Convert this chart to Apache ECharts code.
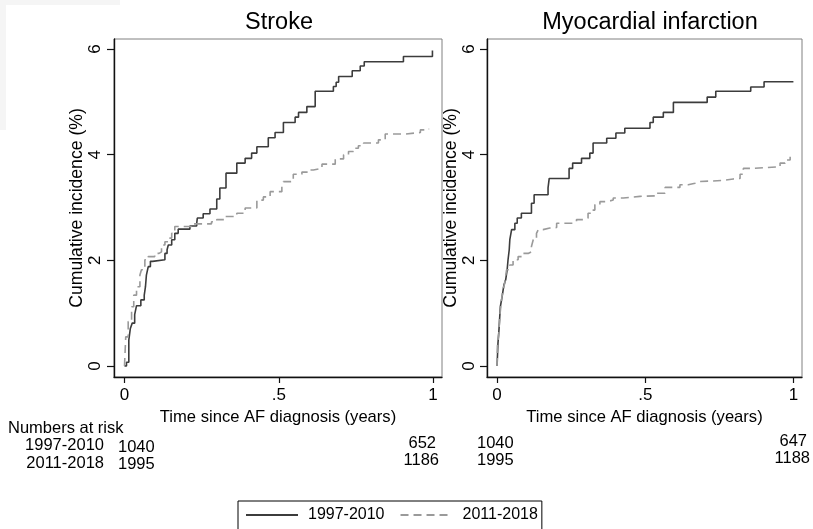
<!DOCTYPE html>
<html>
<head>
<meta charset="utf-8">
<script src="https://cdn.jsdelivr.net/npm/echarts@6/dist/echarts.min.js"></script>
<style>
html,body{margin:0;padding:0;background:#fff;}
#chart{width:813px;height:529px;}
</style>
</head>
<body>
<div id="chart"></div>
<script>
// ---- Data ----
var panelTitles = ['Stroke', 'Myocardial infarction'];
var groupNames = ['1997-2010', '2011-2018'];
var yTicks = [0, 2, 4, 6];
var xTicks = [0, 0.5, 1];
var xTickLabels = ['0', '.5', '1'];
var yAxisTitle = 'Cumulative incidence (%)';
var xAxisTitle = 'Time since AF diagnosis (years)';

// Stroke, 1997-2010 (time in years, cumulative incidence %)
var strokeEarlyT = [0, 0.0065, 0.014, 0.019, 0.025, 0.033, 0.039, 0.053, 0.064, 0.068, 0.071, 0.077, 0.084, 0.091, 0.131, 0.138, 0.142, 0.153, 0.163, 0.174, 0.212, 0.234, 0.236, 0.255, 0.277, 0.299, 0.309, 0.329, 0.364, 0.391, 0.412, 0.429, 0.466, 0.488, 0.515, 0.553, 0.564, 0.591, 0.618, 0.677, 0.686, 0.694, 0.738, 0.764, 0.777, 0.904, 0.998];
var strokeEarlyV = [0, 0.07, 0.49, 0.71, 0.81, 0.97, 1.14, 1.25, 1.34, 1.50, 1.72, 1.88, 1.98, 2.01, 2.13, 2.20, 2.29, 2.39, 2.51, 2.59, 2.65, 2.70, 2.80, 2.88, 2.97, 3.16, 3.37, 3.65, 3.84, 3.93, 4.03, 4.15, 4.32, 4.42, 4.61, 4.71, 4.80, 4.91, 5.20, 5.29, 5.37, 5.48, 5.59, 5.68, 5.76, 5.86, 5.97];
// Stroke, 2011-2018
var strokeLateT = [0, 0.001, 0.004, 0.012, 0.023, 0.030, 0.039, 0.050, 0.055, 0.066, 0.077, 0.098, 0.112, 0.120, 0.131, 0.142, 0.153, 0.163, 0.218, 0.282, 0.299, 0.326, 0.364, 0.391, 0.429, 0.450, 0.472, 0.510, 0.515, 0.547, 0.575, 0.596, 0.612, 0.640, 0.683, 0.710, 0.726, 0.742, 0.758, 0.775, 0.823, 0.845, 0.910, 0.959, 0.986];
var strokeLateV = [0, 0.02, 0.55, 0.84, 1.12, 1.34, 1.50, 1.72, 1.82, 2.01, 2.07, 2.13, 2.16, 2.29, 2.35, 2.42, 2.51, 2.64, 2.69, 2.73, 2.77, 2.83, 2.89, 2.99, 3.14, 3.20, 3.30, 3.40, 3.49, 3.63, 3.67, 3.71, 3.74, 3.82, 3.92, 4.00, 4.06, 4.12, 4.17, 4.22, 4.28, 4.39, 4.42, 4.47, 4.49];
// Myocardial infarction, 1997-2010
var miEarlyT = [0, 0.003, 0.006, 0.011, 0.017, 0.023, 0.029, 0.034, 0.037, 0.041, 0.043, 0.049, 0.060, 0.068, 0.082, 0.116, 0.125, 0.172, 0.176, 0.243, 0.255, 0.285, 0.313, 0.324, 0.370, 0.401, 0.431, 0.516, 0.527, 0.561, 0.595, 0.709, 0.738, 0.856, 0.901, 1.0];
var miEarlyV = [0, 0.43, 0.65, 1.12, 1.31, 1.53, 1.63, 1.82, 2.01, 2.20, 2.39, 2.58, 2.70, 2.80, 2.89, 3.08, 3.24, 3.37, 3.55, 3.74, 3.84, 3.93, 4.03, 4.22, 4.31, 4.41, 4.50, 4.61, 4.71, 4.80, 4.99, 5.09, 5.20, 5.28, 5.38, 5.38];
// Myocardial infarction, 2011-2018
var miLateT = [0, 0.001, 0.006, 0.009, 0.015, 0.020, 0.026, 0.032, 0.043, 0.054, 0.071, 0.086, 0.105, 0.116, 0.122, 0.133, 0.139, 0.155, 0.178, 0.201, 0.257, 0.268, 0.296, 0.307, 0.319, 0.330, 0.347, 0.370, 0.392, 0.426, 0.482, 0.539, 0.567, 0.617, 0.645, 0.668, 0.679, 0.758, 0.797, 0.820, 0.831, 0.859, 0.955, 0.972, 0.989];
var miLateV = [0, 0.37, 0.62, 0.93, 1.25, 1.44, 1.57, 1.82, 1.91, 2.01, 2.07, 2.13, 2.16, 2.26, 2.39, 2.51, 2.58, 2.61, 2.62, 2.70, 2.73, 2.77, 2.80, 2.89, 2.95, 3.05, 3.11, 3.14, 3.18, 3.21, 3.22, 3.27, 3.38, 3.43, 3.46, 3.49, 3.51, 3.54, 3.55, 3.63, 3.74, 3.77, 3.84, 3.90, 3.96];

// Numbers at risk (start, end of year 1) per panel
var riskStroke = [[1040, 652], [1995, 1186]];
var riskMI = [[1040, 647], [1995, 1188]];
var riskHeader = 'Numbers at risk';

// ---- Build ----
function pairs(t, v) { return t.map(function (x, i) { return [x, v[i]]; }); }

var FONT = '"Liberation Sans", Arial, sans-serif';
var solidColor = '#3c3c3c';
var dashColor = '#9a9a9a';

var grids = [
  { left: 114, top: 39, width: 328, height: 338 },
  { left: 487, top: 39, width: 315, height: 338 }
];

function xAx(idx) {
  return {
    type: 'value', gridIndex: idx, min: -0.034, max: 1.029,
    name: xAxisTitle, nameLocation: 'middle', nameGap: 27,
    nameTextStyle: { fontFamily: FONT, fontSize: 16.6, color: '#000' },
    axisLine: { show: true, onZero: false, lineStyle: { color: '#111', width: 1.4 } },
    axisTick: { show: true, length: 6, customValues: xTicks, lineStyle: { color: '#111', width: 1.2 } },
    axisLabel: { customValues: xTicks, margin: 10, fontFamily: FONT, fontSize: 17, color: '#000',
      formatter: function (v) { var i = xTicks.indexOf(v); return i >= 0 ? xTickLabels[i] : ''; } },
    splitLine: { show: false }
  };
}
function yAx(idx, gap, margin) {
  return {
    type: 'value', gridIndex: idx, min: -0.21, max: 6.19,
    name: yAxisTitle, nameLocation: 'middle', nameGap: gap,
    nameTextStyle: { fontFamily: FONT, fontSize: 17.6, color: '#000' },
    axisLine: { show: true, onZero: false, lineStyle: { color: '#111', width: 1.4 } },
    axisTick: { show: true, length: 7, customValues: yTicks, lineStyle: { color: '#111', width: 1.2 } },
    axisLabel: { customValues: yTicks, rotate: 90, margin: margin, fontFamily: FONT, fontSize: 17, color: '#000' },
    splitLine: { show: false }
  };
}
function ser(name, idx, data, dashed) {
  return {
    name: name, type: 'line', step: 'end', xAxisIndex: idx, yAxisIndex: idx,
    data: data, symbol: 'none', showSymbol: false, animation: false,
    lineStyle: { color: dashed ? dashColor : solidColor, width: 1.6, type: dashed ? [8, 5] : 'solid' },
    itemStyle: { color: dashed ? dashColor : solidColor }
  };
}

var chart = echarts.init(document.getElementById('chart'), null, { renderer: 'canvas' });

function riskTexts() {
  var els = [];
  var st = function (txt, x, y, align) {
    els.push({ type: 'text', x: x, y: y,
      style: { text: String(txt), x: 0, y: 0, fill: '#000', font: '16.5px ' + FONT, textAlign: align, textVerticalAlign: 'middle' } });
  };
  st(riskHeader, 8, 428, 'left');
  st(groupNames[0], 104, 445, 'right');
  st(groupNames[1], 104, 463, 'right');
  // Stroke panel
  st(riskStroke[0][0], 118, 447, 'left');
  st(riskStroke[1][0], 118, 464, 'left');
  st(riskStroke[0][1], 436, 443, 'right');
  st(riskStroke[1][1], 439, 460, 'right');
  // MI panel
  st(riskMI[0][0], 477, 443, 'left');
  st(riskMI[1][0], 477, 460, 'left');
  st(riskMI[0][1], 807, 441, 'right');
  st(riskMI[1][1], 810, 458, 'right');
  // faint watermark at top-left
  els.unshift({ type: 'rect', shape: { x: 0, y: 0, width: 6, height: 130 }, style: { fill: '#f5f5f5' }, z: -10 });
  els.unshift({ type: 'rect', shape: { x: 0, y: 0, width: 120, height: 5 }, style: { fill: '#f5f5f5' }, z: -10 });
  return els;
}

chart.setOption({
  backgroundColor: '#fff',
  animation: false,
  title: [
    { text: panelTitles[0], left: 274, top: 6, textAlign: 'center',
      textStyle: { fontFamily: FONT, fontSize: 23.5, fontWeight: 'normal', color: '#000' } },
    { text: panelTitles[1], left: 645, top: 6, textAlign: 'center',
      textStyle: { fontFamily: FONT, fontSize: 23.5, fontWeight: 'normal', color: '#000' } }
  ],
  grid: grids.map(function (g) { return Object.assign({ show: true, borderColor: '#808080', borderWidth: 1, backgroundColor: '#fff' }, g); }),
  xAxis: [xAx(0), xAx(1)],
  yAxis: [yAx(0, 25, 10), yAx(1, 23, 9)],
  legend: {
    data: groupNames, left: 238, top: 501, orient: 'horizontal',
    itemWidth: 52, itemHeight: 14, itemGap: 15,
    padding: [6, 4, 8, 7], borderColor: '#000', borderWidth: 1,
    itemStyle: { opacity: 0 },
    textStyle: { fontFamily: FONT, fontSize: 16, color: '#000', padding: [0, 0, 0, 5] },
    selectedMode: false
  },
  series: [
    ser(groupNames[0], 0, pairs(strokeEarlyT, strokeEarlyV), false),
    ser(groupNames[1], 0, pairs(strokeLateT, strokeLateV), true),
    ser(groupNames[0], 1, pairs(miEarlyT, miEarlyV), false),
    ser(groupNames[1], 1, pairs(miLateT, miLateV), true)
  ],
  graphic: riskTexts()
});
</script>
</body>
</html>
